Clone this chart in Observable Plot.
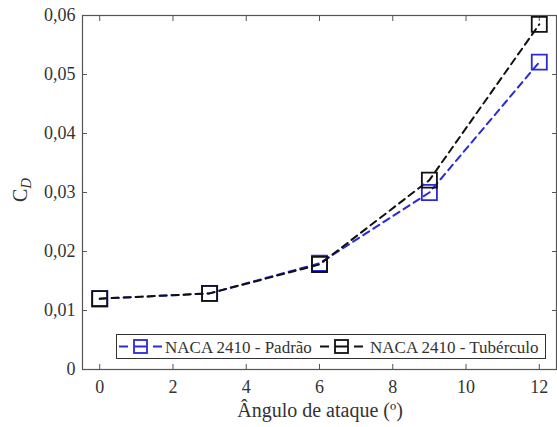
<!DOCTYPE html>
<html>
<head>
<meta charset="utf-8">
<script src="https://cdn.jsdelivr.net/npm/d3@7"></script>
<script src="https://cdn.jsdelivr.net/npm/@observablehq/plot@0.6"></script>
<style>
  html, body { margin: 0; padding: 0; background: #fff; }
  #chart { width: 557px; height: 427px; }
</style>
</head>
<body>
<div id="chart"></div>
<script>
const angles = [0, 3, 6, 9, 12];
const padrao = [0.0120, 0.0129, 0.0180, 0.0300, 0.0521];
const tuberculo = [0.0120, 0.0129, 0.0178, 0.0321, 0.0585];
const seriesNames = ["NACA 2410 - Padrão", "NACA 2410 - Tubérculo"];
const seriesColors = ["#2a2ad8", "#111111"];
const xTicks = [0, 2, 4, 6, 8, 10, 12];
const yTicks = [0, 0.01, 0.02, 0.03, 0.04, 0.05, 0.06];
const xLabel = "Ângulo de ataque (º)";

const data = [];
angles.forEach((a, i) => data.push({angle: a, cd: padrao[i], s: seriesNames[0]}));
angles.forEach((a, i) => data.push({angle: a, cd: tuberculo[i], s: seriesNames[1]}));

const fmtY = d => d === 0 ? "0" : d.toFixed(2).replace(".", ",");
const FONT = "Liberation Serif";
const TXT = "#333";

const plot = Plot.plot({
  width: 557,
  height: 427,
  marginLeft: 82,
  marginRight: 1,
  marginTop: 15,
  marginBottom: 58,
  style: {color: TXT, background: "#fff"},
  x: {domain: [-0.47, 12.47]},
  y: {domain: [0, 0.06]},
  color: {domain: seriesNames, range: seriesColors},
  marks: [
    Plot.axisX({ticks: xTicks, tickSize: 0, tickPadding: 11, label: null, tickFormat: d => String(d), fill: TXT, fontSize: 18, fontVariant: "normal"}),
    Plot.axisX({ticks: xTicks, tickSize: -5, tickFormat: () => "", label: null, stroke: "#555"}),
    Plot.axisX({anchor: "top", ticks: xTicks, tickSize: -5, tickFormat: () => "", label: null, stroke: "#555"}),
    Plot.axisY({ticks: yTicks, tickSize: 0, tickPadding: 7, label: null, tickFormat: fmtY, fill: TXT, fontSize: 18, fontVariant: "normal"}),
    Plot.axisY({ticks: yTicks, tickSize: -5, tickFormat: () => "", label: null, stroke: "#555"}),
    Plot.axisY({anchor: "right", ticks: yTicks, tickSize: -5, tickFormat: () => "", label: null, stroke: "#555"}),
    Plot.frame({stroke: "#555", strokeWidth: 1.2}),
    Plot.line(data, {x: "angle", y: "cd", z: "s", stroke: "s", strokeWidth: 2, strokeDasharray: "7,5"}),
    Plot.dot(data, {x: "angle", y: "cd", stroke: "s", symbol: "square", r: 8.5, strokeWidth: 1.8, fill: "none"})
  ]
});

document.getElementById("chart").appendChild(plot);

// axis titles and legend
const svg = d3.select(plot);
svg.append("text")
  .attr("x", 320).attr("y", 417)
  .attr("text-anchor", "middle")
  .attr("font-size", 20).attr("fill", TXT)
  .text(xLabel);

const yl = svg.append("text")
  .attr("transform", "translate(27,190) rotate(-90)")
  .attr("text-anchor", "middle")
  .attr("font-size", 20).attr("fill", TXT);
yl.append("tspan").text("C");
yl.append("tspan").attr("font-style", "italic").attr("font-size", 15).attr("dy", 4).text("D");

const lg = svg.append("g");
lg.append("rect").attr("x", 116.5).attr("y", 334.5).attr("width", 429).attr("height", 24)
  .attr("fill", "#fff").attr("stroke", "#333").attr("stroke-width", 1);
const items = [{x0: 119, tx: 165}, {x0: 320, tx: 370}];
items.forEach((it, i) => {
  const c = seriesColors[i];
  const cy = 346.5;
  lg.append("line").attr("x1", it.x0).attr("x2", it.x0 + 9).attr("y1", cy).attr("y2", cy).attr("stroke", c).attr("stroke-width", 2);
  lg.append("line").attr("x1", it.x0 + 34).attr("x2", it.x0 + 43).attr("y1", cy).attr("y2", cy).attr("stroke", c).attr("stroke-width", 2);
  lg.append("line").attr("x1", it.x0 + 15).attr("x2", it.x0 + 28).attr("y1", cy).attr("y2", cy).attr("stroke", c).attr("stroke-width", 2);
  lg.append("rect").attr("x", it.x0 + 15).attr("y", cy - 6.5).attr("width", 13).attr("height", 13)
    .attr("fill", "none").attr("stroke", c).attr("stroke-width", 1.8);
  lg.append("text").attr("x", it.tx).attr("y", cy + 6)
    .attr("text-anchor", "start")
    .attr("font-size", 17).attr("fill", TXT)
    .text(seriesNames[i]);
});

// serif face on every text
plot.style.setProperty("font-family", FONT, "important");
plot.querySelectorAll("text, tspan").forEach(el => {
  el.style.setProperty("font-family", FONT, "important");
});
</script>
</body>
</html>
